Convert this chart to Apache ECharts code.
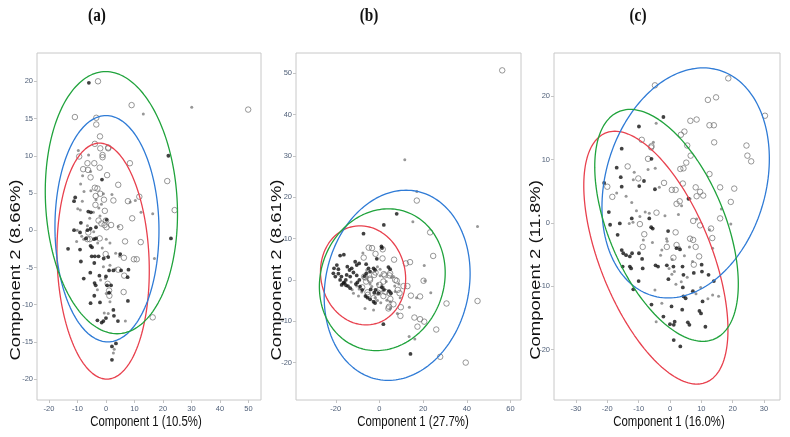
<!DOCTYPE html>
<html><head><meta charset="utf-8">
<script src="https://cdn.jsdelivr.net/npm/echarts@6/dist/echarts.min.js"></script>
<style>html,body{margin:0;padding:0;background:#fff}#c{width:790px;height:437px}</style>
</head><body><div id="c"></div>
<script>
// ---------- Panel titles and axis names ----------
const panelTitles = ['(a)', '(b)', '(c)'];
const xNames = ['Component 1 (10.5%)', 'Component 1 (27.7%)', 'Component 1 (16.0%)'];
const yNames = ['Component 2 (8.66%)', 'Component 2 (8.61%)', 'Component 2 (11.8%)'];

// ---------- Tick labels ----------
const aXTicks = [-20, -10, 0, 10, 20, 30, 40, 50];
const aYTicks = [-20, -15, -10, -5, 0, 5, 10, 15, 20];
const bXTicks = [-20, 0, 20, 40, 60];
const bYTicks = [-20, -10, 0, 10, 20, 30, 40, 50];
const cXTicks = [-30, -20, -10, 0, 10, 20, 30];
const cYTicks = [-20, -10, 0, 10, 20];

// ---------- Panel (a) points ----------
const aOpen = [[-2.8,20.0],[-10.9,15.2],[-3.4,15.1],[-3.4,14.2],[9.0,16.8],[-2.1,12.6],[-3.9,11.6],[0.8,11.0],[-1.2,10.1],[-1.2,9.8],[-9.4,9.9],[8.4,9.0],[-6.5,9.0],[-4.1,9.0],[-2.2,8.4],[-8.0,8.2],[-6.3,8.1],[-5.4,7.1],[0.4,7.4],[4.3,6.1],[21.5,6.6],[-3.9,5.7],[-3.0,5.6],[-2.0,4.9],[-3.6,4.6],[2.6,4.0],[7.7,3.9],[11.7,4.5],[-3.7,3.4],[-0.7,4.1],[-0.4,2.6],[24.1,2.7],[9.2,1.6],[-2.6,1.3],[0.0,1.3],[-1.6,0.9],[-0.5,0.7],[0.2,0.4],[1.8,0.7],[5.0,0.4],[-6.2,-0.3],[-6.5,-1.2],[-5.7,-1.2],[-2.2,-1.1],[12.2,-1.6],[6.7,-1.5],[-0.1,-3.2],[6.3,-3.7],[9.8,-3.9],[10.8,-3.9],[4.3,-5.3],[6.4,-6.1],[0.6,-7.2],[1.1,-8.1],[1.2,-8.8],[6.2,-8.3],[16.4,-11.7],[49.9,16.2],[-2.0,11.0],[0.8,11.1]];
const aFilled = [[-6.0,19.8],[21.9,10.0],[-10.8,4.4],[-11.2,3.9],[-6.2,2.5],[-5.3,2.4],[-8.8,1.0],[-11.2,0.0],[-9.1,-0.3],[-5.4,0.2],[-6.5,0.0],[-3.5,0.4],[0.2,1.4],[-1.4,6.8],[-13.3,-2.5],[-9.1,-2.6],[-5.4,-2.1],[-4.9,-2.3],[-7.0,-1.1],[-4.2,-1.2],[-3.5,-1.1],[-8.8,-4.2],[-5.0,-3.5],[-3.9,-3.5],[-2.6,-3.5],[-4.1,-4.4],[-0.8,-3.8],[0.8,-3.6],[5.0,-3.2],[22.8,-1.1],[-7.8,-6.5],[-5.5,-5.7],[-2.3,-6.1],[-4.0,-7.1],[-3.6,-7.4],[0.0,-6.2],[1.1,-5.4],[2.6,-5.4],[5.3,-5.4],[7.9,-5.3],[7.6,-6.3],[0.4,-7.4],[1.8,-7.4],[1.1,-8.4],[-4.1,-8.8],[-5.4,-9.8],[-2.1,-9.7],[7.7,-9.5],[-3.0,-12.1],[-1.5,-12.4],[-0.9,-12.2],[0.0,-11.8],[2.6,-10.7],[2.8,-11.5],[4.2,-12.2],[3.5,-15.2],[2.1,-15.6],[2.1,-17.4]];
const aGray = [[13.1,15.6],[30.1,16.5],[-6.1,10.1],[-9.7,10.7],[-5.4,7.9],[-8.2,7.3],[-8.9,6.2],[-7.7,5.2],[-5.3,5.3],[-1.6,3.5],[-0.9,4.9],[-8.3,3.9],[-3.5,4.1],[2.1,4.8],[8.5,3.8],[10.3,4.0],[12.3,2.4],[16.4,2.2],[-9.0,2.7],[-9.9,2.9],[-5.7,1.6],[-4.4,2.4],[-2.5,3.0],[-2.1,1.9],[4.3,0.5],[-10.3,-1.5],[-7.8,-1.2],[-8.5,-0.8],[0.1,-1.2],[1.4,-1.7],[-4.3,-0.2],[-2.9,-1.7],[-1.3,-2.4],[3.4,-3.1],[4.8,-3.5],[3.3,-5.2],[17.0,-3.8],[-0.9,-4.9],[1.4,-4.7],[-1.9,-6.7],[-0.2,-6.5],[-3.0,-8.0],[0.1,-8.5],[1.4,-9.6],[-0.6,-11.1],[0.8,-11.2],[6.8,-12.2],[2.6,-16.5],[2.9,-16.0],[-10.1,0.0],[-6.5,0.6]];

// ---------- Panel (b) points ----------
const bOpen = [[56.2,50.7],[17.1,19.2],[23.2,11.5],[24.6,5.8],[6.7,4.9],[12.1,4.0],[14.0,4.3],[-4.9,7.8],[-3.4,7.7],[1.5,7.4],[-1.8,6.3],[-7.2,5.4],[1.4,5.2],[11.0,-1.5],[12.8,-1.5],[20.2,-0.2],[18.6,-4.0],[14.4,-3.8],[30.7,-5.7],[44.9,-5.1],[16.0,-9.1],[18.6,-9.5],[20.5,-10.1],[17.4,-11.3],[26.0,-12.0],[27.8,-18.6],[39.5,-20.0],[9.6,-8.7],[9.8,-6.6],[6.4,-5.9],[4.4,-6.5],[4.1,-6.9],[7.2,0.0],[7.9,-0.2],[8.4,-2.4],[9.2,-3.2],[4.6,1.1],[4.9,1.6],[2.0,1.4],[2.4,1.1],[-2.4,1.2],[-1.8,1.8],[-4.3,0.0],[-6.4,0.6],[-6.1,-0.4],[-5.5,-3.0],[-5.3,-3.6],[-7.9,-1.8],[0.0,-1.2],[0.0,-2.4],[1.8,-3.9],[2.7,-2.9],[4.6,-3.2],[5.0,-4.6],[-0.6,-3.1],[-2.7,-4.4],[-4.4,0.3],[-7.0,0.8],[1.8,-0.4]];
const bFilled = [[7.9,16.0],[2.0,13.3],[-7.3,11.2],[1.8,-10.7],[14.2,-17.9],[-18.0,5.9],[-16.3,6.1],[-20.8,2.8],[-19.5,3.6],[-18.8,2.6],[-21.1,1.6],[-20.2,0.8],[-18.8,1.5],[-18.0,0.0],[-17.4,0.8],[-16.2,-0.6],[-15.3,-1.3],[-14.4,-1.5],[-14.7,3.2],[-13.7,2.4],[-12.7,2.8],[-15.0,1.2],[-13.4,0.8],[-11.1,4.4],[-10.4,3.6],[-9.3,4.0],[-11.9,1.8],[-10.4,1.1],[-17.3,-1.2],[-16.5,-0.8],[-10.8,-1.0],[-10.1,-0.6],[-8.9,-1.6],[-7.9,-2.4],[-6.1,3.8],[-5.0,2.8],[-4.3,2.0],[-6.9,0.9],[-6.0,1.6],[-2.7,2.8],[-2.0,2.4],[-1.2,5.1],[1.2,7.7],[0.9,8.1],[4.1,3.1],[4.9,2.6],[1.1,-1.8],[2.1,-2.4],[-1.8,-2.4],[-2.4,-3.1],[4.4,-2.7],[5.2,-3.2],[-6.4,-3.9],[-5.5,-4.3],[-4.3,-4.7],[-2.7,-5.3],[-2.0,-5.6],[-0.5,-3.2],[-9.2,0.0],[-13.4,-2.0],[-15.4,0.0],[-4.0,-2.3]];
const bGray = [[11.6,29.1],[17.1,21.4],[15.3,14.1],[44.9,12.9],[20.5,3.5],[20.8,-0.2],[17.0,-4.3],[23.5,-3.1],[13.7,-6.6],[13.6,-13.7],[16.2,-14.3],[9.5,-4.3],[7.2,-2.8],[8.9,-1.0],[-11.9,-3.2],[-9.6,-3.9],[-8.1,-2.9],[-10.4,-1.5],[-9.3,-2.2],[-12.5,-2.4],[-13.0,-0.5],[-4.3,-1.0],[-3.5,-1.6],[-0.9,-1.0],[1.1,-1.2],[1.8,-1.8],[-2.0,-4.3],[-0.9,-5.0],[0.6,-5.5],[3.4,-4.9],[4.9,-5.3],[-0.9,3.2],[0.3,2.6],[-7.6,6.5],[-5.8,2.4],[5.5,0.6],[6.4,0.8],[7.0,-1.5],[3.1,-0.4],[0.3,1.0],[4.9,-6.9],[8.2,-8.1],[-15.6,-0.8],[-6.6,-6.9],[-2.7,-7.3]];

// ---------- Panel (c) points ----------
const cOpen = [[-4.8,21.7],[18.6,22.8],[30.3,16.9],[12.1,19.4],[14.7,19.8],[6.5,16.1],[8.5,16.3],[12.6,15.4],[14.0,15.4],[3.5,13.9],[4.6,14.4],[14.1,12.7],[-9.0,13.1],[-6.0,11.9],[-5.9,12.1],[5.5,12.2],[24.4,12.2],[24.7,10.6],[25.9,9.7],[-7.0,10.1],[-13.5,8.9],[6.6,10.6],[5.2,9.5],[3.3,8.5],[4.3,8.6],[12.6,7.7],[-10.1,7.0],[-1.9,6.3],[4.1,6.2],[0.6,5.2],[1.8,5.2],[8.2,5.6],[9.6,4.9],[10.6,4.3],[8.5,4.2],[16.0,5.6],[20.5,5.4],[19.4,3.3],[2.1,3.0],[3.1,3.4],[-20.0,5.7],[-18.4,4.1],[-4.3,1.6],[-9.6,-0.2],[-8.2,-1.8],[-8.7,-3.8],[7.4,0.3],[16.0,0.7],[9.6,-0.4],[1.8,-1.5],[13.1,-0.9],[13.5,-2.4],[6.4,-2.5],[7.4,-2.7],[2.1,-3.5],[-1.0,-3.8],[8.2,-3.8],[9.3,-5.3],[1.1,-5.5],[7.6,-6.6]];
const cFilled = [[-2.1,16.7],[-9.9,15.2],[-5.9,10.1],[-15.4,11.7],[-17.0,8.7],[-15.7,7.2],[-15.4,5.7],[-9.8,5.8],[-8.3,6.6],[-4.8,5.3],[-21.0,6.3],[-19.5,1.7],[-19.1,-0.3],[-16.0,-0.1],[-16.7,-1.9],[-12.2,0.7],[-15.4,-4.3],[-14.9,-4.8],[-14.0,-5.1],[-12.8,-5.3],[-15.1,-6.9],[-12.1,-4.8],[-9.9,-4.8],[-8.9,-5.7],[-12.8,-6.9],[-12.4,-7.2],[-11.7,-10.5],[-10.0,-9.2],[-8.7,-7.2],[-6.6,0.7],[-6.0,-0.7],[-5.5,-0.9],[-4.6,-6.7],[-3.8,-6.9],[-1.0,-6.7],[-0.5,-8.9],[1.1,-6.9],[4.0,-6.9],[4.3,-8.2],[7.6,-7.9],[10.1,-6.6],[10.2,-7.7],[12.3,-8.2],[14.0,-9.2],[4.1,-10.2],[4.3,-11.6],[5.0,-11.9],[7.3,-10.8],[10.4,-12.4],[-5.9,-12.9],[-2.1,-14.8],[0.5,-13.2],[0.0,-16.0],[1.2,-16.1],[1.5,-15.6],[5.7,-15.7],[6.2,-16.1],[9.4,-13.9],[9.9,-14.3],[11.3,-16.4],[1.2,-18.5],[3.3,-19.5],[3.9,-13.7],[-0.6,-1.3],[2.1,-4.0],[3.2,-4.2],[5.9,3.8]];
const cGray = [[-4.4,15.7],[-5.3,12.7],[-7.0,8.4],[-4.7,8.6],[-3.4,5.6],[-11.4,8.0],[-17.0,4.7],[-14.0,4.2],[-11.7,6.8],[-12.2,3.2],[-10.7,1.9],[-7.9,1.7],[-6.6,1.5],[-13.0,-0.1],[-11.8,0.1],[-9.6,1.0],[-8.5,-2.7],[-5.6,-3.1],[-1.1,-2.5],[-0.9,-2.9],[-1.6,1.1],[2.7,1.3],[3.7,2.7],[3.0,-3.9],[4.6,-5.2],[6.2,-3.8],[7.2,-6.1],[-2.6,-4.3],[-3.0,-5.1],[0.7,-5.8],[-0.3,-7.2],[0.6,-8.1],[1.4,-7.7],[-4.8,-10.6],[1.9,-9.7],[3.6,-9.3],[8.3,-11.2],[9.8,-10.2],[12.1,-12.0],[13.6,-11.4],[15.5,-11.6],[19.4,-0.2],[16.4,2.2],[13.6,-4.0],[12.6,-1.1],[-2.6,-12.7],[-4.4,-15.6],[5.5,-8.6],[6.4,3.8],[8.5,0.6]];

// ---------- Density ellipses: [centerX, centerY, halfWidth, halfHeight, topPointOffsetX] ----------
const aRedEll   = [-1.0, -4.15, 16.2, 15.85, -1.3];
const aBlueEll  = [0.35, 0.2, 18.25, 15.2, -0.3];
const aGreenEll = [1.9, 3.7, 23.2, 17.6, -2.0];
const bRedEll   = [-7.5, 1.1, 19.5, 12.0, -1.4];
const bBlueEll  = [8.1, -1.3, 33.4, 23.0, 4.1];
const bGreenEll = [1.3, 0.05, 28.8, 17.15, 2.8];
const cRedEll   = [-4.5, -5.5, 23.0, 19.95, -13.1];
const cBlueEll  = [5.0, 6.3, 26.7, 18.15, 5.6];
const cGreenEll = [-1.1, -0.4, 22.9, 18.3, -11.6];

// ---------- Axis ranges ----------
const xRanges = [[-24.2, 54.4], [-38.2, 64.8], [-37.0, 35.1]];
const yRanges = [[-22.8, 23.8], [-29.05, 54.9], [-27.96, 26.8]];

// ---------- Layout ----------
const grids = [
  {left: 37, top: 53, width: 224, height: 347},
  {left: 296, top: 53, width: 225, height: 347},
  {left: 554, top: 53, width: 226, height: 347}
];
const COL_RED = '#e8414e', COL_BLUE = '#2f7bd6', COL_GREEN = '#20a33c';

function ellipse(p) {
  const [cx, cy, W, H, vx] = p;
  const ux = Math.sqrt(Math.max(W * W - vx * vx, 0));
  const pts = [];
  const n = 180;
  for (let i = 0; i <= n; i++) {
    const t = 2 * Math.PI * i / n;
    pts.push([cx + ux * Math.cos(t) + vx * Math.sin(t), cy + H * Math.sin(t)]);
  }
  return pts;
}

const panels = [
  {open: aOpen, filled: aFilled, gray: aGray, ell: [aRedEll, aBlueEll, aGreenEll], xt: aXTicks, yt: aYTicks},
  {open: bOpen, filled: bFilled, gray: bGray, ell: [bRedEll, bBlueEll, bGreenEll], xt: bXTicks, yt: bYTicks},
  {open: cOpen, filled: cFilled, gray: cGray, ell: [cRedEll, cBlueEll, cGreenEll], xt: cXTicks, yt: cYTicks}
];

const labelStyle = {fontSize: 7.5, color: '#4f5f78', fontFamily: 'Liberation Sans, Arial, sans-serif'};
const xAxis = [], yAxis = [], series = [];
panels.forEach((p, i) => {
  xAxis.push({
    type: 'value', gridIndex: i, min: xRanges[i][0], max: xRanges[i][1],
    splitLine: {show: false}, axisLine: {show: false, onZero: false},
    axisTick: {show: true, length: 3, lineStyle: {color: '#c4c4c4'}, customValues: p.xt},
    axisLabel: Object.assign({margin: 5, customValues: p.xt}, labelStyle)
  });
  yAxis.push({
    type: 'value', gridIndex: i, min: yRanges[i][0], max: yRanges[i][1],
    splitLine: {show: false}, axisLine: {show: false, onZero: false},
    axisTick: {show: true, length: 3, lineStyle: {color: '#c4c4c4'}, customValues: p.yt},
    axisLabel: Object.assign({margin: 4, customValues: p.yt}, labelStyle)
  });
  series.push({
    type: 'scatter', xAxisIndex: i, yAxisIndex: i, data: p.gray, symbolSize: 3,
    itemStyle: {color: '#7d7d7d'}, silent: true
  });
  series.push({
    type: 'scatter', xAxisIndex: i, yAxisIndex: i, data: p.open, symbolSize: 5.5,
    itemStyle: {color: 'rgba(255,255,255,0)', borderColor: '#6e6e6e', borderWidth: 0.9}, silent: true
  });
  series.push({
    type: 'scatter', xAxisIndex: i, yAxisIndex: i, data: p.filled, symbolSize: 3.8,
    itemStyle: {color: '#111'}, silent: true
  });
  [COL_RED, COL_BLUE, COL_GREEN].forEach((col, k) => {
    series.push({
      type: 'line', xAxisIndex: i, yAxisIndex: i, data: ellipse(p.ell[k]),
      showSymbol: false, symbol: 'none', smooth: false, silent: true,
      lineStyle: {color: col, width: 1.3}
    });
  });
});

const titleX = [97, 369, 638];
const xNameX = [146, 413, 669];
const yNameX = [16, 277, 536];
const graphic = [];
for (let i = 0; i < 3; i++) {
  graphic.push({type: 'text', x: titleX[i], y: 16, scaleX: 0.85,
    style: {text: panelTitles[i], font: 'bold 18px "Liberation Serif", "Times New Roman", serif', fill: '#111', align: 'center', verticalAlign: 'middle'}});
  graphic.push({type: 'text', x: xNameX[i], y: 422, scaleX: 0.76,
    style: {text: xNames[i], font: '15px "Liberation Sans", Arial, sans-serif', fill: '#111', align: 'center', verticalAlign: 'middle'}});
  graphic.push({type: 'text', x: yNameX[i], y: 270, rotation: Math.PI / 2, scaleY: 0.78,
    style: {text: yNames[i], font: '18.5px "Liberation Sans", Arial, sans-serif', fill: '#111', align: 'center', verticalAlign: 'middle'}});
}

const chart = echarts.init(document.getElementById('c'), null, {renderer: 'canvas'});
chart.setOption({
  animation: false,
  backgroundColor: '#fff',
  grid: grids.map(g => Object.assign({show: true, borderColor: '#c8c8c8', borderWidth: 1, backgroundColor: '#fff'}, g)),
  xAxis, yAxis, series, graphic
});
</script></body></html>
